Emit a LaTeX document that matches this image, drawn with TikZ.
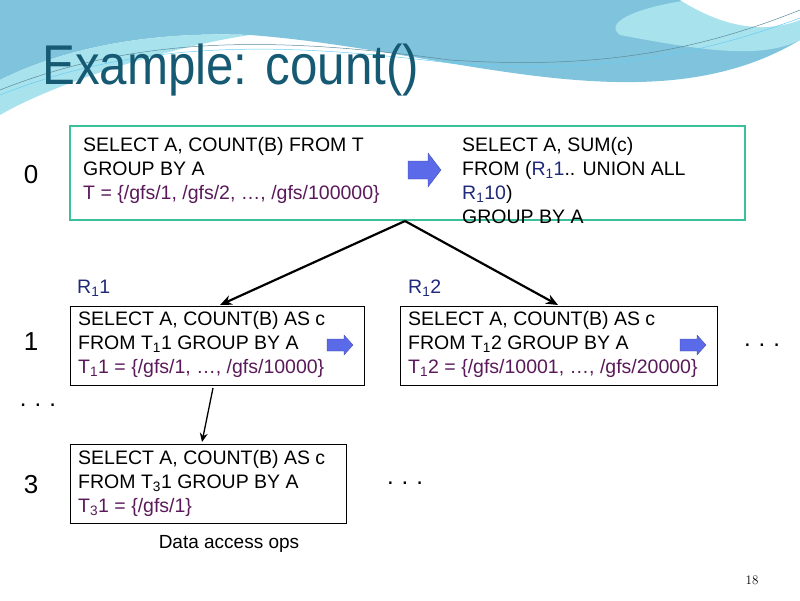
\documentclass[tikz,border=0pt]{standalone}
\usepackage{fontspec}
\setmainfont{Liberation Sans}
\usetikzlibrary{arrows.meta}
\definecolor{tpurp}{HTML}{5A1A5A}
\definecolor{rnavy}{HTML}{1F2A7A}
\definecolor{ttl}{HTML}{155A72}
\definecolor{grn}{HTML}{3CBF9B}
\definecolor{barrow}{HTML}{5A6AE8}
\definecolor{wave1}{HTML}{7FC4DC}
\definecolor{wave2}{HTML}{A8E2EC}
\tikzset{
 qtext/.style={anchor=north west,align=left,font=\fontsize{19.5}{24}\selectfont,inner sep=0pt},
 qbox/.style={draw=black,line width=0.9pt},
 blk/.style={fill=barrow,draw=barrow!70!black,line width=0.3pt},
 conn/.style={-{Stealth[length=12pt,width=10pt]},line width=2.2pt},
 lvl/.style={font=\fontsize{26}{30}\selectfont},
 dots/.style={font=\fontsize{24}{24}\selectfont}
}
\newcommand{\sub}[1]{\textsubscript{#1}}
% block arrow: \blkarrow{x}{y}{length}{shaft half}{head half}{head length}
\newcommand{\blkarrow}[6]{\draw[blk] (#1,#2-#4) -- (#1+#3-#6,#2-#4) -- (#1+#3-#6,#2-#5) -- (#1+#3,#2) -- (#1+#3-#6,#2+#5) -- (#1+#3-#6,#2+#4) -- (#1,#2+#4) -- cycle;}
\begin{document}
\begin{tikzpicture}[x=1pt,y=-1pt]
\useasboundingbox (0,0) rectangle (800,600);
% background waves
\fill[wave1] (0,0) -- (800,0) -- (800,40) .. controls (650,130) and (450,50) .. (250,35) .. controls (120,30) and (40,60) .. (0,80) -- cycle;
\fill[wave2] (0,80) .. controls (40,60) and (120,30) .. (250,35) .. controls (180,45) and (60,80) .. (0,115) -- cycle;
\fill[wave2] (690,0) -- (800,0) -- (800,40) .. controls (760,60) and (700,50) .. (620,35) .. controls (600,20) and (650,5) .. (690,0) -- cycle;
\fill[white] (680,0) .. controls (720,25) and (760,35) .. (800,20) -- (800,0) -- cycle;
\draw[ttl!70,line width=0.5pt] (0,90) .. controls (150,30) and (300,40) .. (450,60) .. controls (600,70) and (700,50) .. (800,10);
\draw[cyan!60,line width=0.5pt] (0,95) .. controls (150,35) and (300,45) .. (450,63) .. controls (600,75) and (700,55) .. (800,18);
% title
\node[anchor=west,text=ttl,font=\fontsize{56}{60}\selectfont,xscale=0.88,inner sep=0pt] (title) at (42,70) {Example: count()};
% top box
\draw[grn,line width=2.8pt] (70,126) rectangle (745,220);
\node[qtext] (top1) at (83,137) {SELECT A, COUNT(B) FROM T\\GROUP BY A\\\textcolor{tpurp}{T = \{/gfs/1, /gfs/2, …, /gfs/100000\}}};
\node[qtext] (top2) at (462,137) {SELECT A, SUM(c)\\FROM (\textcolor{rnavy}{R\sub{1}1}.. UNION ALL\\\textcolor{rnavy}{R\sub{1}10})\\GROUP BY A};
\blkarrow{408}{170}{33}{9}{17}{13}
\coordinate (split) at (405,221);
% level 1
\node[qtext,text=rnavy] (r11) at (77,280) {R\sub{1}1};
\node[qtext,text=rnavy] (r12) at (408,280) {R\sub{1}2};
\draw[qbox] (70,306) rectangle (364,385);
\node[qtext] (b1) at (78,311) {SELECT A, COUNT(B) AS c\\FROM T\sub{1}1 GROUP BY A\\\textcolor{tpurp}{T\sub{1}1 = \{/gfs/1, …, /gfs/10000\}}};
\coordinate (b1top) at (220,305);
\coordinate (b1bot) at (213,388);
\blkarrow{327}{345}{26}{6}{10}{9}
\draw[qbox] (400,306) rectangle (717,385);
\node[qtext] (b2) at (408,311) {SELECT A, COUNT(B) AS c\\FROM T\sub{1}2 GROUP BY A\\\textcolor{tpurp}{T\sub{1}2 = \{/gfs/10001, …, /gfs/20000\}}};
\coordinate (b2top) at (558,305);
\blkarrow{680}{345}{26}{6}{10}{9}
% level 3
\draw[qbox] (70,444) rectangle (346,523);
\node[qtext] (b3) at (78,450) {SELECT A, COUNT(B) AS c\\FROM T\sub{3}1 GROUP BY A\\\textcolor{tpurp}{T\sub{3}1 = \{/gfs/1\}}};
\coordinate (b3top) at (202,442);
% connectors
\draw[conn] (split) -- (b1top);
\draw[conn] (split) -- (b2top);
\draw[-{Stealth[length=9pt,width=8pt]},line width=1.3pt] (b1bot) -- (b3top);
% level labels
\node[lvl] (l0) at (31,175) {0};
\node[lvl] (l1) at (31,342) {1};
\node[lvl] (l3) at (31,485) {3};
\node[dots] (d1) at (38,405) {.\,\,.\,\,.};
\node[dots] (d2) at (762,345) {.\,\,.\,\,.};
\node[dots] (d3) at (405,483) {.\,\,.\,\,.};
\node[font=\fontsize{19}{22}\selectfont] (dao) at (229,544) {Data access ops};
\node[font=\fontfamily{lmr}\fontsize{13}{14}\selectfont] (pg) at (752,580) {18};
\end{tikzpicture}
\end{document}
